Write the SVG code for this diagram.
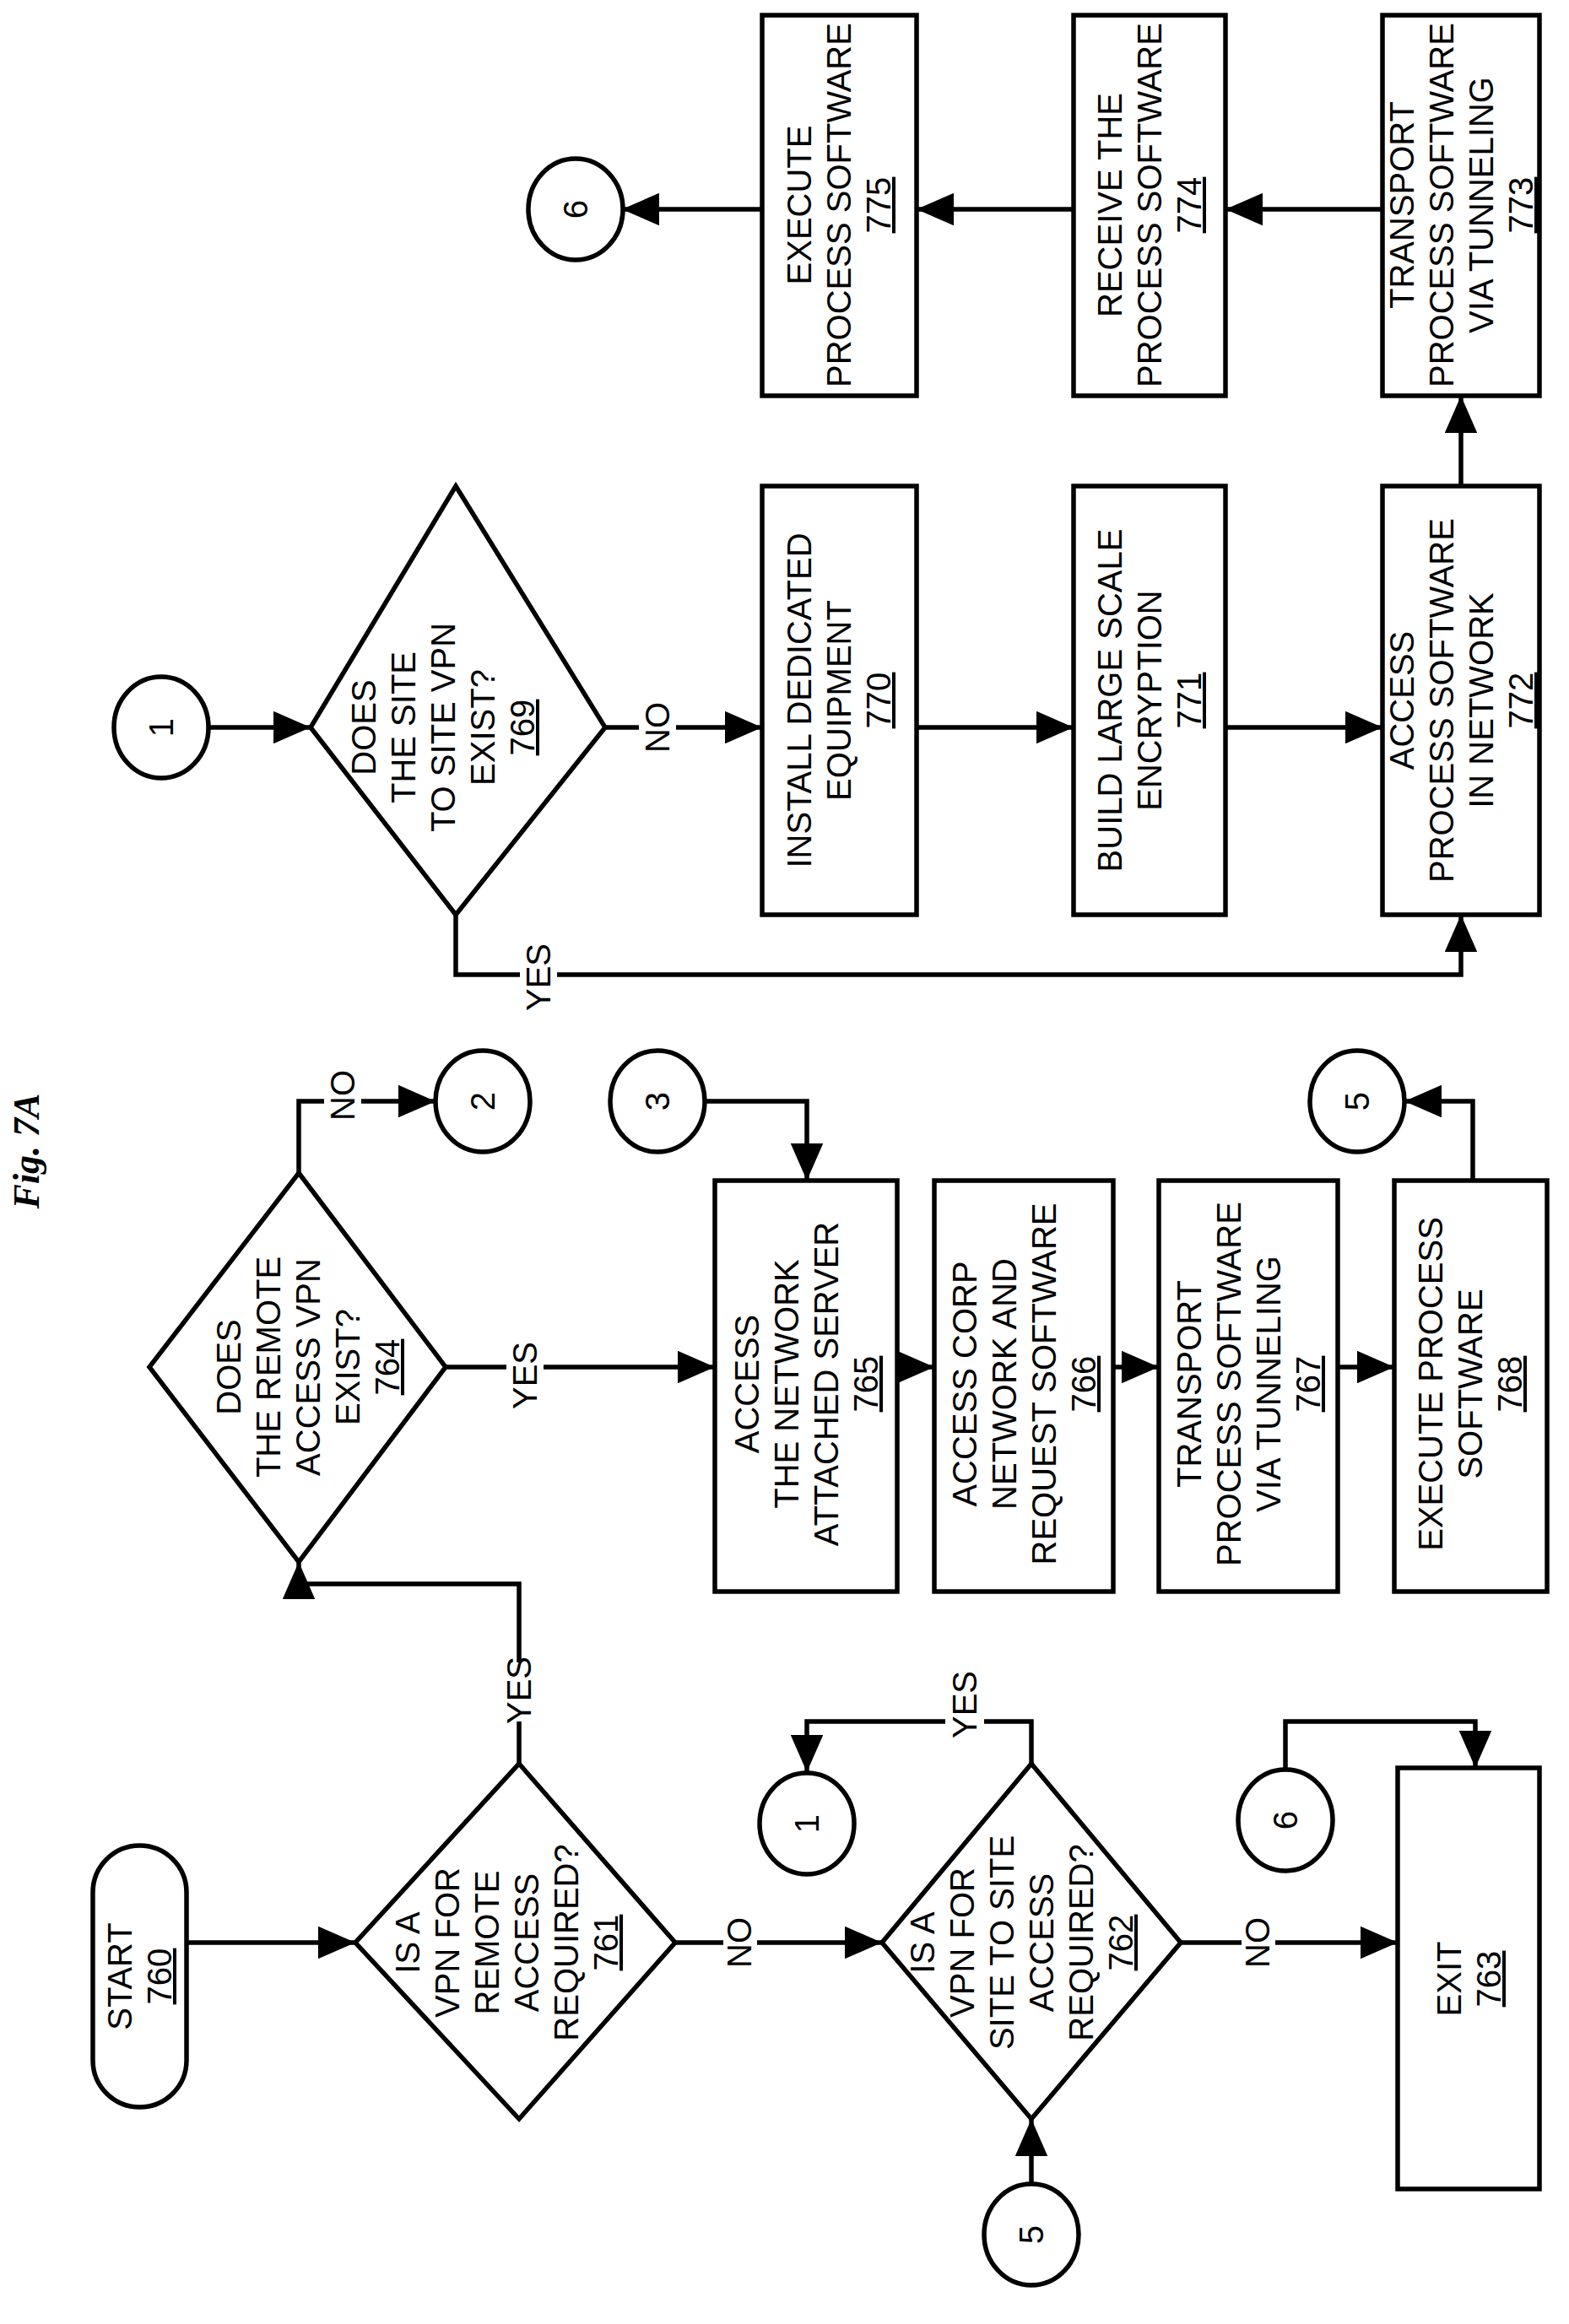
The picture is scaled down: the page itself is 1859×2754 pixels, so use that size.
<svg xmlns="http://www.w3.org/2000/svg" width="1859" height="2754" viewBox="0 0 1859 2754">
<style>
.s{fill:#fff;stroke:#000;stroke-width:5.5}
.c{fill:none;stroke:#000;stroke-width:5.5}
.w{fill:#fff}
text{font-family:"Liberation Sans",Arial,sans-serif;font-size:40px;text-anchor:middle;fill:#000}
.u{text-decoration:underline}
.t{font-family:"Liberation Serif",serif;font-weight:bold;font-style:italic;font-size:44px}
</style>
<defs>
<marker id="a" markerWidth="8" markerHeight="7" refX="8" refY="3.5" orient="auto" markerUnits="strokeWidth"><path d="M0,0 L8,3.5 L0,7 Z" fill="#000"/></marker>
</defs>
<rect width="1859" height="2754" fill="#fff"/>
<text class="t" transform="translate(46,1364) rotate(-90)">Fig. 7A</text>
<g id="connectors">
<path class="c" d="M221,2302 H421" marker-end="url(#a)"/>
<path class="c" d="M792,2302 H1045" marker-end="url(#a)"/>
<path class="c" d="M1399,2302 H1656" marker-end="url(#a)"/>
<path class="c" d="M1222,2587 V2511" marker-end="url(#a)"/>
<path class="c" d="M1222,2090 V2040 H956 V2100" marker-end="url(#a)"/>
<path class="c" d="M1523,2097 V2040 H1748 V2095" marker-end="url(#a)"/>
<path class="c" d="M615,2090 V1877 H354 V1851" marker-end="url(#a)"/>
<path class="c" d="M354,1390 V1305 H516" marker-end="url(#a)"/>
<path class="c" d="M833,1305 H956 V1399" marker-end="url(#a)"/>
<path class="c" d="M528,1620 H847" marker-end="url(#a)"/>
<path class="c" d="M1063,1620 H1107" marker-end="url(#a)"/>
<path class="c" d="M1319,1620 H1373" marker-end="url(#a)"/>
<path class="c" d="M1585,1620 H1652" marker-end="url(#a)"/>
<path class="c" d="M1745,1399 V1305 H1664" marker-end="url(#a)"/>
<path class="c" d="M247,862 H368" marker-end="url(#a)"/>
<path class="c" d="M717,862 H903" marker-end="url(#a)"/>
<path class="c" d="M1086,862 H1272" marker-end="url(#a)"/>
<path class="c" d="M1452,862 H1638" marker-end="url(#a)"/>
<path class="c" d="M540,1084 V1155 H1731 V1084" marker-end="url(#a)"/>
<path class="c" d="M1731,576 V469" marker-end="url(#a)"/>
<path class="c" d="M1638,248 H1452" marker-end="url(#a)"/>
<path class="c" d="M1272,248 H1086" marker-end="url(#a)"/>
<path class="c" d="M903,248 H737" marker-end="url(#a)"/>
<g>
<rect class="w" x="857" y="2280" width="40" height="44"/><text transform="translate(890,2302) rotate(-90)">NO</text>
<rect class="w" x="1471" y="2280" width="40" height="44"/><text transform="translate(1504,2302) rotate(-90)">NO</text>
<rect class="w" x="593" y="1970" width="44" height="70"/><text transform="translate(629,2003) rotate(-90)">YES</text>
<rect class="w" x="1120" y="1985" width="46" height="72"/><text transform="translate(1157,2020) rotate(-90)">YES</text>
<rect class="w" x="384" y="1283" width="44" height="44"/><text transform="translate(420,1298) rotate(-90)">NO</text>
<rect class="w" x="600" y="1598" width="44" height="74"/><text transform="translate(636,1630) rotate(-90)">YES</text>
<rect class="w" x="757" y="840" width="44" height="44"/><text transform="translate(793,862) rotate(-90)">NO</text>
<rect class="w" x="616" y="1130" width="44" height="56"/><text transform="translate(652,1158) rotate(-90)">YES</text>
</g>
</g>
<g id="n760"><rect class="s" x="110" y="2187" width="111" height="310" rx="55.5"/><text transform="translate(165,2342) rotate(-90)"><tspan x="0" y="-9">START</tspan><tspan class="u" x="0" y="38">760</tspan></text></g>
<g id="n761"><path class="s" d="M615,2090 L800,2302 L615,2511 L421,2302 Z"/><text transform="translate(600,2302) rotate(-90)"><tspan x="0" y="-103">IS A</tspan><tspan x="0" y="-56">VPN FOR</tspan><tspan x="0" y="-9">REMOTE</tspan><tspan x="0" y="38">ACCESS</tspan><tspan x="0" y="85">REQUIRED?</tspan><tspan class="u" x="0" y="132">761</tspan></text></g>
<g id="n762"><path class="s" d="M1222,2090 L1399,2302 L1222,2511 L1045,2302 Z"/><text transform="translate(1210,2302) rotate(-90)"><tspan x="0" y="-103">IS A</tspan><tspan x="0" y="-56">VPN FOR</tspan><tspan x="0" y="-9">SITE TO SITE</tspan><tspan x="0" y="38">ACCESS</tspan><tspan x="0" y="85">REQUIRED?</tspan><tspan class="u" x="0" y="132">762</tspan></text></g>
<g id="n763"><rect class="s" x="1656" y="2095" width="168" height="499"/><text transform="translate(1740,2345) rotate(-90)"><tspan x="0" y="-9">EXIT</tspan><tspan class="u" x="0" y="38">763</tspan></text></g>
<g id="c1a"><ellipse class="s" cx="956" cy="2161" rx="56" ry="60"/><text transform="translate(970,2161) rotate(-90)">1</text></g>
<g id="c6a"><ellipse class="s" cx="1523" cy="2157" rx="56" ry="60"/><text transform="translate(1537,2157) rotate(-90)">6</text></g>
<g id="c5a"><ellipse class="s" cx="1222" cy="2648" rx="56" ry="60"/><text transform="translate(1236,2648) rotate(-90)">5</text></g>
<g id="n764"><path class="s" d="M354,1390 L528,1620 L354,1851 L177,1620 Z"/><text transform="translate(365,1620) rotate(-90)"><tspan x="0" y="-80">DOES</tspan><tspan x="0" y="-33">THE REMOTE</tspan><tspan x="0" y="14">ACCESS VPN</tspan><tspan x="0" y="61">EXIST?</tspan><tspan class="u" x="0" y="108">764</tspan></text></g>
<g id="c2"><ellipse class="s" cx="572" cy="1305" rx="56" ry="60"/><text transform="translate(586,1305) rotate(-90)">2</text></g>
<g id="c3"><ellipse class="s" cx="779" cy="1305" rx="56" ry="60"/><text transform="translate(793,1305) rotate(-90)">3</text></g>
<g id="c5b"><ellipse class="s" cx="1608" cy="1305" rx="56" ry="60"/><text transform="translate(1622,1305) rotate(-90)">5</text></g>
<g id="n765"><rect class="s" x="847" y="1399" width="216" height="487"/><text transform="translate(955,1640) rotate(-90)"><tspan x="0" y="-56">ACCESS</tspan><tspan x="0" y="-9">THE NETWORK</tspan><tspan x="0" y="38">ATTACHED SERVER</tspan><tspan class="u" x="0" y="85">765</tspan></text></g>
<g id="n766"><rect class="s" x="1107" y="1399" width="212" height="487"/><text transform="translate(1213,1640) rotate(-90)"><tspan x="0" y="-56">ACCESS CORP</tspan><tspan x="0" y="-9">NETWORK AND</tspan><tspan x="0" y="38">REQUEST SOFTWARE</tspan><tspan class="u" x="0" y="85">766</tspan></text></g>
<g id="n767"><rect class="s" x="1373" y="1399" width="212" height="487"/><text transform="translate(1479,1640) rotate(-90)"><tspan x="0" y="-56">TRANSPORT</tspan><tspan x="0" y="-9">PROCESS SOFTWARE</tspan><tspan x="0" y="38">VIA TUNNELING</tspan><tspan class="u" x="0" y="85">767</tspan></text></g>
<g id="n768"><rect class="s" x="1652" y="1399" width="181" height="487"/><text transform="translate(1742,1640) rotate(-90)"><tspan x="0" y="-33">EXECUTE PROCESS</tspan><tspan x="0" y="14">SOFTWARE</tspan><tspan class="u" x="0" y="61">768</tspan></text></g>
<g id="c1b"><ellipse class="s" cx="191" cy="862" rx="56" ry="60"/><text transform="translate(205,862) rotate(-90)">1</text></g>
<g id="n769"><path class="s" d="M540,576 L717,862 L540,1084 L368,862 Z"/><text transform="translate(525,862) rotate(-90)"><tspan x="0" y="-80">DOES</tspan><tspan x="0" y="-33">THE SITE</tspan><tspan x="0" y="14">TO SITE VPN</tspan><tspan x="0" y="61">EXIST?</tspan><tspan class="u" x="0" y="108">769</tspan></text></g>
<g id="n770"><rect class="s" x="903" y="576" width="183" height="508"/><text transform="translate(994,830) rotate(-90)"><tspan x="0" y="-33">INSTALL DEDICATED</tspan><tspan x="0" y="14">EQUIPMENT</tspan><tspan class="u" x="0" y="61">770</tspan></text></g>
<g id="n771"><rect class="s" x="1272" y="576" width="180" height="508"/><text transform="translate(1362,830) rotate(-90)"><tspan x="0" y="-33">BUILD LARGE SCALE</tspan><tspan x="0" y="14">ENCRYPTION</tspan><tspan class="u" x="0" y="61">771</tspan></text></g>
<g id="n772"><rect class="s" x="1638" y="576" width="186" height="508"/><text transform="translate(1731,830) rotate(-90)"><tspan x="0" y="-56">ACCESS</tspan><tspan x="0" y="-9">PROCESS SOFTWARE</tspan><tspan x="0" y="38">IN NETWORK</tspan><tspan class="u" x="0" y="85">772</tspan></text></g>
<g id="n773"><rect class="s" x="1638" y="18" width="186" height="451"/><text transform="translate(1731,243) rotate(-90)"><tspan x="0" y="-56">TRANSPORT</tspan><tspan x="0" y="-9">PROCESS SOFTWARE</tspan><tspan x="0" y="38">VIA TUNNELING</tspan><tspan class="u" x="0" y="85">773</tspan></text></g>
<g id="n774"><rect class="s" x="1272" y="18" width="180" height="451"/><text transform="translate(1362,243) rotate(-90)"><tspan x="0" y="-33">RECEIVE THE</tspan><tspan x="0" y="14">PROCESS SOFTWARE</tspan><tspan class="u" x="0" y="61">774</tspan></text></g>
<g id="n775"><rect class="s" x="903" y="18" width="183" height="451"/><text transform="translate(994,243) rotate(-90)"><tspan x="0" y="-33">EXECUTE</tspan><tspan x="0" y="14">PROCESS SOFTWARE</tspan><tspan class="u" x="0" y="61">775</tspan></text></g>
<g id="c6b"><ellipse class="s" cx="682" cy="248" rx="56" ry="60"/><text transform="translate(696,248) rotate(-90)">6</text></g>
</svg>
